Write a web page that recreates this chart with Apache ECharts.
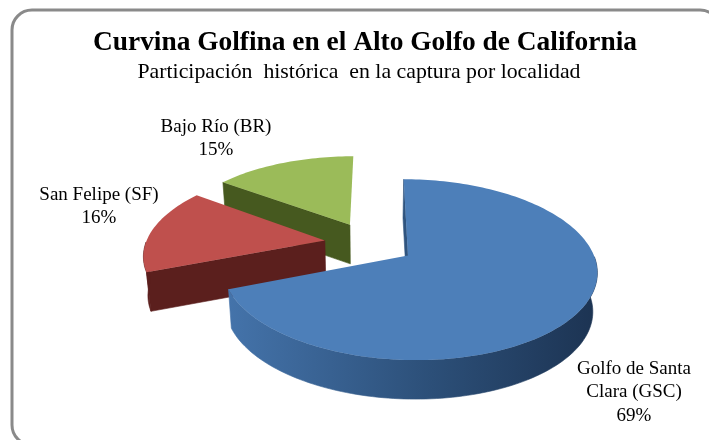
<!DOCTYPE html>
<html>
<head>
<meta charset="utf-8">
<style>html,body{margin:0;padding:0;background:#fff}#chart{width:709px;height:440px}</style>
<script src="https://cdn.jsdelivr.net/npm/echarts@6/dist/echarts.min.js"></script>
</head>
<body>
<div id="chart"></div>
<script>
// Catch shares by locality
const categories = ['Golfo de Santa\nClara (GSC)', 'San Felipe (SF)', 'Bajo Río (BR)'];
const shares = [69, 16, 15];
const titleText = 'Curvina Golfina en el Alto Golfo de California';
const subtitleText = 'Participación  histórica  en la captura por localidad';

// Face colours per slice
const topColors = ['#4d7fb9', '#bf504d', '#9bbb59'];
const wallColors = [
  new echarts.graphic.LinearGradient(229, 0, 598, 0, [
    { offset: 0, color: '#4473aa' },
    { offset: 0.55, color: '#2c4f78' },
    { offset: 1, color: '#1c3352' }
  ], true),
  '#5b1f1d',
  '#46591f'
];
const labelAnchors = [[634, 369], [99, 195], [216, 127]];

// Perspective projection of the tilted pie plane onto the page
const view = {
  x0: 369.65, y0: 243.2, scaleX: 180.5, scaleY: 84.29,
  explode: 0.2519, foreshorten: 0.1532, skew: -0.0053, rotation: 0.0056,
  depth: 39, wallShrink: 0.02
};
const total = shares.reduce((a, b) => a + b, 0);

function project(px, py) {
  const w = 1 + view.foreshorten * py + view.skew * px;
  return [view.x0 + view.scaleX * px / w, view.y0 - view.scaleY * py / w];
}
function dropped(p) {
  return [view.x0 + (p[0] - view.x0) * (1 - view.wallShrink), p[1] + view.depth];
}

function renderSlice(params, api) {
  const idx = params.dataIndex;
  const before = shares.slice(0, idx).reduce((a, b) => a + b, 0);
  const start = before / total * Math.PI * 2 + view.rotation;
  const end = (before + api.value(0)) / total * Math.PI * 2 + view.rotation;
  const mid = (start + end) / 2;
  const ox = view.explode * Math.sin(mid);
  const oy = view.explode * Math.cos(mid);

  const steps = Math.max(16, Math.round((end - start) * 40));
  const rim = [];
  const frontRim = [];
  for (let i = 0; i <= steps; i++) {
    const t = start + (end - start) * i / steps;
    const p = project(ox + Math.sin(t), oy + Math.cos(t));
    rim.push(p);
    // The outer wall only shows on the near half of the rim
    if (Math.cos(t) < 0) frontRim.push(p);
  }
  const apex = project(ox, oy);
  const depthOrder = 10 * (shares.length - idx);
  const wall = wallColors[idx];
  const wallPoly = (pts, order) => ({
    type: 'polygon', z2: depthOrder + order, shape: { points: pts },
    style: { fill: wall, stroke: wall, lineWidth: 0.6 }
  });

  const children = [
    // Only the cut face at the start angle can show; the other is turned away
    wallPoly([rim[0], apex, dropped(apex), dropped(rim[0])], 0)
  ];
  if (frontRim.length > 1) {
    children.push(wallPoly(frontRim.concat(frontRim.map(dropped).reverse()), 1));
  }
  children.push(
    {
      type: 'polygon', z2: depthOrder + 2,
      shape: { points: [apex].concat(rim) },
      style: { fill: topColors[idx] }
    },
    {
      type: 'text',
      z2: 100,
      style: {
        x: labelAnchors[idx][0], y: labelAnchors[idx][1] + (idx === 0 ? 23.5 : 11.75),
        text: categories[idx] + '\n' + api.value(0) + '%',
        align: 'center', verticalAlign: 'middle',
        font: '19px "Liberation Serif"', lineHeight: 23.5, fill: '#000'
      }
    }
  );
  return { type: 'group', children };
}

const chart = echarts.init(document.getElementById('chart'), null, { renderer: 'canvas' });
chart.setOption({
  animation: false,
  backgroundColor: '#fff',
  title: [
    {
      text: titleText, left: 360, textAlign: 'center', top: 24,
      textStyle: { fontFamily: 'Liberation Serif', fontWeight: 'bold', fontSize: 27.4, color: '#000' }
    },
    {
      text: subtitleText, left: 354, textAlign: 'center', top: 56.5,
      textStyle: { fontFamily: 'Liberation Serif', fontWeight: 'normal', fontSize: 21.8, color: '#000' }
    }
  ],
  graphic: [{
    type: 'rect', silent: true, z: -1,
    shape: { x: 12, y: 10, width: 708, height: 435, r: 20 },
    style: { fill: '#fff', stroke: '#8a8a8a', lineWidth: 3 }
  }],
  series: [{
    type: 'custom',
    coordinateSystem: 'none',
    data: shares.map((v) => [v]),
    renderItem: renderSlice,
    silent: true
  }]
});
</script>
</body>
</html>
